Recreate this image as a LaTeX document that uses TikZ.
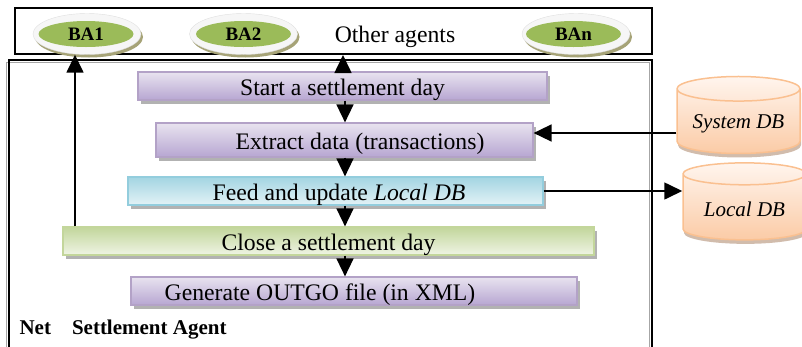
\documentclass[tikz,border=0pt]{standalone}
\usepackage{fontspec}
\setmainfont{Liberation Serif}
\usetikzlibrary{shapes.geometric, arrows.meta, shadows}
\usepackage{xcolor}
\definecolor{lilacedge}{HTML}{B3A2C7}
\definecolor{lilactop}{HTML}{E8E3EF}
\definecolor{lilacbot}{HTML}{B7A6D2}
\definecolor{aquaedge}{HTML}{93CDDD}
\definecolor{aquatop}{HTML}{A3D5E2}
\definecolor{aquabot}{HTML}{E3F2F6}
\definecolor{leafedge}{HTML}{C3D69B}
\definecolor{leaftop}{HTML}{C2D69B}
\definecolor{leafbot}{HTML}{EFF4E4}
\definecolor{peachedge}{HTML}{FAC090}
\definecolor{peachtop}{HTML}{FFF5EE}
\definecolor{peachbot}{HTML}{FBCBA6}
\definecolor{agentgreen}{HTML}{9BBB59}

\begin{document}
\begin{tikzpicture}[
  x=1pt, y=1pt,
  txt/.style={font=\fontsize{23.7}{28}\selectfont},
  stepbox/.style={
    rectangle, draw, line width=1.2pt,
    minimum height=28pt, inner sep=0pt,
    text height=18pt, text depth=0pt,
    drop shadow={shadow xshift=3pt, shadow yshift=-4pt, fill=gray!60, opacity=1},
    txt
  },
  lilac/.style={stepbox, draw=lilacedge, top color=lilactop, bottom color=lilacbot},
  aqua/.style={stepbox, draw=aquaedge, top color=aquatop, bottom color=aquabot},
  leaf/.style={stepbox, draw=leafedge, top color=leaftop, bottom color=leafbot},
  ring/.style={
    ellipse, draw=gray!25, fill=gray!7,
    minimum width=108pt, minimum height=41pt,
    drop shadow={shadow xshift=2pt, shadow yshift=-3pt, fill=olive!35!gray!80, opacity=1}
  },
  agent/.style={
    ellipse, fill=agentgreen, inner sep=0pt,
    minimum width=95pt, minimum height=26pt,
    font=\fontsize{19}{22}\selectfont\bfseries
  },
  db/.style={
    cylinder, shape border rotate=90, aspect=0.25,
    draw=peachedge, line width=1.5pt,
    top color=peachtop, bottom color=peachbot,
    minimum width=123pt, minimum height=77pt,
    drop shadow={shadow xshift=1pt, shadow yshift=-4pt, fill=peachedge!50!gray!70, opacity=1},
    font=\fontsize{21}{24}\selectfont\itshape
  },
  arr/.style={-{Triangle[length=18pt, width=17pt]}, line width=1.6pt}
]
  \useasboundingbox (0,0) rectangle (802,-346);
  \clip (0,0) rectangle (802,-346);

  % frames
  \node[draw, line width=2pt, minimum width=637pt, minimum height=46pt] (agentsbox) at (333.5,-31) {};
  \draw[gray!70, line width=1.5pt] (6.5,-62.5) rectangle (649.5,-420);
  \node[draw, line width=2.2pt, minimum width=643pt, minimum height=340pt] (netagent) at (330.5,-230) {};

  % other agents
  \node[ring] (ba1ring) at (87,-34) {};
  \node[agent] (ba1) at (86,-34) {BA1};
  \node[ring] (ba2ring) at (243.5,-34) {};
  \node[agent] (ba2) at (243.5,-34) {BA2};
  \node[ring] (banring) at (576,-34) {};
  \node[agent] (ban) at (573.5,-34) {BAn};
  \node[txt, anchor=base] (others) at (395,-42) {Other agents};

  % settlement steps
  \node[lilac, minimum width=409pt] (start) at (342.5,-86) {Start a settlement day};
  \node[lilac, minimum width=377pt, minimum height=34pt] (extract) at (344.5,-140) {\hspace*{31pt}Extract data (transactions)};
  \node[aqua, minimum width=415pt] (feed) at (335.5,-191) {\hspace*{7pt}Feed and update \textit{Local DB}};
  \node[leaf, minimum width=531pt] (close) at (328.5,-241) {Close a settlement day};
  \node[lilac, minimum width=446pt] (gen) at (354,-291) {Generate OUTGO file (in XML)\hspace*{68pt}};

  \node[font=\fontsize{21}{24}\selectfont\bfseries, anchor=base west] (nsalabel) at (16,-334) {Net\quad Settlement Agent};

  % databases
  \node[db] (sysdb) at (738.5,-123.5) {System DB};
  \node[db] (localdb) at (744.5,-209) {Local DB};

  % connectors
  \coordinate (spine) at (345,0);
  \coordinate (upline) at (343,0);
  \coordinate (balane) at (75,0);

  \draw[arr] (start.north -| upline) -- (agentsbox.south -| upline);
  \draw[arr] (start.south -| spine) -- (extract.north -| spine);
  \draw[arr] (extract.south -| spine) -- (feed.north -| spine);
  \draw[arr] (feed.south -| spine) -- (close.north -| spine);
  \draw[arr] (close.south -| spine) -- (gen.north -| spine);
  \draw[arr] (close.north -| balane) -- (ba1ring.south -| balane);
  \draw[arr] ([yshift=-9.5pt]sysdb.west) -- ([yshift=-9.5pt]sysdb.west -| extract.east);
  \draw[arr] (feed.east) -- (feed.east -| localdb.west);
\end{tikzpicture}
\end{document}
